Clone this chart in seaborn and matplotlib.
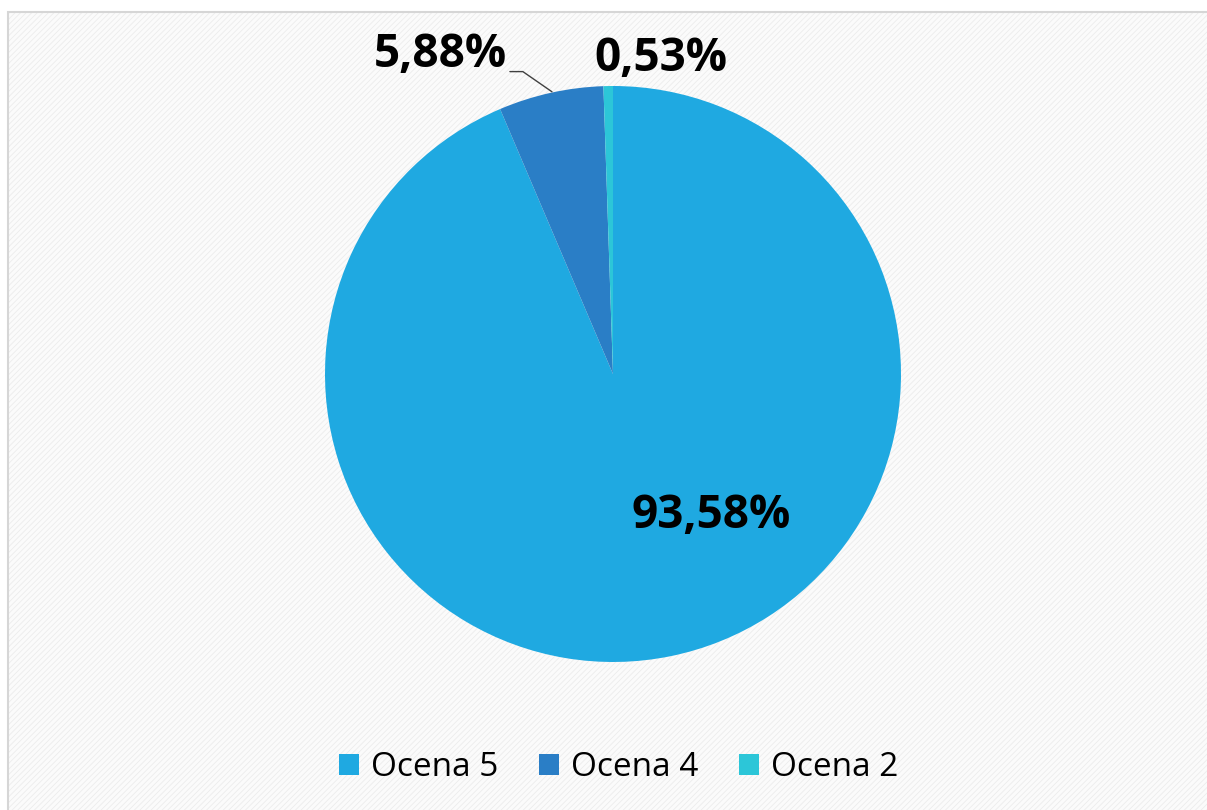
import matplotlib
matplotlib.use("Agg")
import matplotlib.pyplot as plt
from matplotlib.patches import Rectangle
import seaborn as sns

# data
categories = ["Ocena 5", "Ocena 4", "Ocena 2"]
shares = [93.58, 5.88, 0.53]
labels = ["93,58%", "5,88%", "0,53%"]
colors = ["#1fa9e1", "#2a7ec6", "#2cc6d8"]

sns.set_theme(style="white")
plt.rcParams["font.family"] = ["Open Sans", "DejaVu Sans"]
plt.rcParams["hatch.linewidth"] = 0.6

fig = plt.figure(figsize=(12.07, 8.10), dpi=100)
fig.patch.set_facecolor("white")

# chart area with faint diagonal hatch, like the Excel style
bg = Rectangle((8 / 1207, 0), 1 - 8 / 1207, 1 - 12 / 810, transform=fig.transFigure,
               facecolor="#fbfbfb", edgecolor="#ececec", hatch="//////", lw=0, zorder=-2)
fig.patches.append(bg)
frame = Rectangle((8 / 1207, -0.01), 1.0, 1 - 12 / 810 + 0.01, transform=fig.transFigure,
                  facecolor="none", edgecolor="#d6d6d6", lw=1.5, zorder=-1)
fig.patches.append(frame)

ax = fig.add_axes([325 / 1207, 148 / 810, 576 / 1207, 576 / 810])
ax.set_zorder(2)
ax.set_facecolor("none")
wedges, _ = ax.pie(shares, colors=colors, startangle=90, counterclock=False,
                   radius=1.0, wedgeprops=dict(linewidth=0))
ax.set_xlim(-1, 1)
ax.set_ylim(-1, 1)
ax.set_aspect("equal")
ax.axis("off")

lab_kw = dict(fontsize=33, fontweight="bold", color="black", ha="center", va="center")
ax.text(0.34, -0.49, labels[0], **lab_kw)
ax.text(-0.60, 1.11, labels[1], clip_on=False, **lab_kw)
ax.text(0.165, 1.095, labels[2], clip_on=False, **lab_kw)
ax.plot([-0.358, -0.313, -0.212], [1.050, 1.050, 0.980], color="#404040", lw=1.0,
        clip_on=False)

handles = [Rectangle((0, 0), 1, 1, facecolor=c, edgecolor="none") for c in colors]
leg = fig.legend(handles, categories, loc="center", bbox_to_anchor=(0.5125, 1 - 768 / 810),
                 ncol=3, frameon=False, fontsize=24, handlelength=0.6, handleheight=0.6,
                 handletextpad=0.38, columnspacing=1.2)
for t in leg.get_texts():
    t.set_color("black")

fig.savefig("out.png", dpi=100)
